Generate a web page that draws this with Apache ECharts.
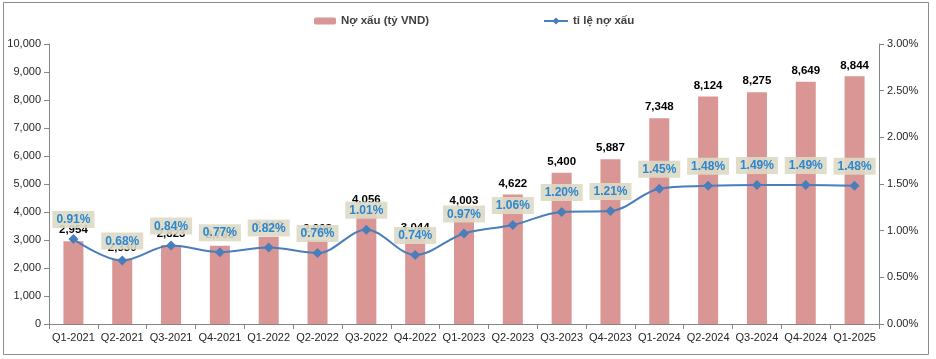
<!DOCTYPE html>
<html><head><meta charset="utf-8">
<script src="https://cdn.jsdelivr.net/npm/echarts@6/dist/echarts.min.js"></script>
<style>html,body{margin:0;padding:0;background:#fff}#c{width:936px;height:359px}</style>
</head><body><div id="c"></div>
<script>
const categories = ['Q1-2021','Q2-2021','Q3-2021','Q4-2021','Q1-2022','Q2-2022','Q3-2022','Q4-2022','Q1-2023','Q2-2023','Q3-2023','Q4-2023','Q1-2024','Q2-2024','Q3-2024','Q4-2024','Q1-2025'];
const badDebt = [2954,2330,2823,2798,3119,2998,4056,3044,4003,4622,5400,5887,7348,8124,8275,8649,8844];
const badDebtRatio = [0.91,0.68,0.84,0.77,0.82,0.76,1.01,0.74,0.97,1.06,1.20,1.21,1.45,1.48,1.49,1.49,1.48];
const leftTicks = {min:0, max:10000, interval:1000};
const rightTicks = {min:0, max:3, interval:0.5};
const barName = 'Nợ xấu (tỷ VND)';
const lineName = 'tỉ lệ nợ xấu';

const FONT = '"Liberation Sans", Arial, "Noto Sans", sans-serif';
const chart = echarts.init(document.getElementById('c'));
const axisLine = {show:true, lineStyle:{color:'#868686', width:1}};
chart.setOption({
  animation:false,
  textStyle:{fontFamily:FONT},
  graphic:[{type:'rect', shape:{x:3.5,y:2.5,width:925,height:352}, style:{fill:'none', stroke:'#8c8c8c', lineWidth:1}, silent:true}],
  legend:[
    {data:[barName], left:309, top:10, itemWidth:22, itemHeight:7, textStyle:{fontFamily:FONT, fontSize:11.5, fontWeight:'bold', color:'#404040'}},
    {data:[lineName], left:538, top:10, itemWidth:24, itemHeight:9, textStyle:{fontFamily:FONT, fontSize:11.5, fontWeight:'bold', color:'#404040'}}
  ],
  grid:{left:49, right:57, top:44, bottom:35},
  xAxis:{type:'category', data:categories, axisLine:axisLine,
    axisTick:{show:true, length:5, lineStyle:{color:'#868686'}},
    axisLabel:{fontFamily:FONT, fontSize:11, color:'#262626', margin:8, interval:0}},
  yAxis:[
    {type:'value', min:leftTicks.min, max:leftTicks.max, interval:leftTicks.interval, splitLine:{show:false},
     axisLine:axisLine, axisTick:{show:true, length:5, lineStyle:{color:'#868686'}},
     axisLabel:{fontFamily:FONT, fontSize:11, color:'#262626', margin:8, formatter:v=>v.toLocaleString('en-US')}},
    {type:'value', min:rightTicks.min, max:rightTicks.max, interval:rightTicks.interval, splitLine:{show:false},
     axisLine:axisLine, axisTick:{show:true, length:5, lineStyle:{color:'#868686'}},
     axisLabel:{fontFamily:FONT, fontSize:11, color:'#262626', margin:8, formatter:v=>v.toFixed(2)+'%'}}
  ],
  series:[
    {name:barName, type:'bar', data:badDebt, yAxisIndex:0, barWidth:20, z:2,
     itemStyle:{color:'#D99694'},
     label:{show:true, position:'top', distance:5, fontFamily:FONT, fontSize:11.5, fontWeight:'bold', color:'#000',
       formatter:p=>p.value.toLocaleString('en-US')}},
    {name:lineName, type:'line', data:badDebtRatio, yAxisIndex:1, smooth:0.35, z:5,
     symbol:'diamond', symbolSize:10, lineStyle:{color:'#4A7EBB', width:2}, itemStyle:{color:'#4A7EBB'},
     label:{show:true, position:'top', distance:6, fontFamily:FONT, fontSize:12, fontWeight:'bold', color:'#2A87D0',
       backgroundColor:'rgba(221,217,196,0.9)', padding:[3,4,2,4],
       formatter:p=>p.value.toFixed(2)+'%'}}
  ]
});
</script></body></html>
